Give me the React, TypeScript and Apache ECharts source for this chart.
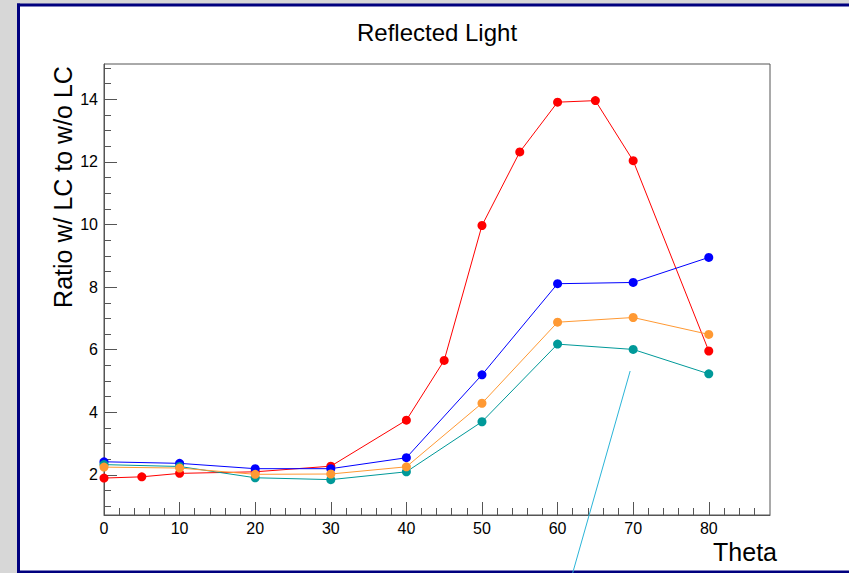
import React, { useEffect, useRef } from "react";
import * as echarts from "echarts";

const titleText = "Reflected Light";
const xTitle = "Theta";
const yTitle = "Ratio w/ LC to w/o LC";

const xMajorTicks = [0, 10, 20, 30, 40, 50, 60, 70, 80];
const xMinorTicks = [2, 4, 6, 8, 12, 14, 16, 18, 22, 24, 26, 28, 32, 34, 36, 38, 42, 44, 46, 48, 52, 54, 56, 58, 62, 64, 66, 68, 72, 74, 76, 78, 82, 84, 86];
const yMajorTicks = [2, 4, 6, 8, 10, 12, 14];
const yMinorTicks = [1, 1.5, 2.5, 3, 3.5, 4.5, 5, 5.5, 6.5, 7, 7.5, 8.5, 9, 9.5, 10.5, 11, 11.5, 12.5, 13, 13.5, 14.5, 15];

const xMin = 0;
const xMax = 88.1;
const yMin = 0.72;
const yMax = 15.13;

const redTheta = [0, 5, 10, 20, 30, 40, 45, 50, 55, 60, 65, 70, 80];
const redRatio = [1.9, 1.94, 2.05, 2.1, 2.28, 3.75, 5.66, 9.97, 12.32, 13.91, 13.96, 12.04, 5.96];

const theta = [0, 10, 20, 30, 40, 50, 60, 70, 80];
const blueRatio = [2.42, 2.37, 2.2, 2.2, 2.55, 5.2, 8.11, 8.15, 8.95];
const tealRatio = [2.33, 2.27, 1.91, 1.85, 2.1, 3.7, 6.18, 6.01, 5.23];
const orangeRatio = [2.25, 2.22, 2.02, 2.03, 2.26, 4.29, 6.88, 7.03, 6.49];

const strayLineTheta = [69.6, 62.0];
const strayLineRatio = [5.32, -1.13];

const zip = (xs: number[], ys: number[]) => xs.map((x, i) => [x, ys[i]]);

const FONT = "Liberation Sans, Arial, Helvetica, sans-serif";
const AXIS_COLOR = "#555555";
const FRAME_COLOR = "#00007f";

export default function App() {
  const ref = useRef<HTMLDivElement>(null);

  useEffect(() => {
    if (!ref.current) return;
    const prevHtmlOverflow = document.documentElement.style.overflow;
    const prevBodyOverflow = document.body.style.overflow;
    document.documentElement.style.overflow = "hidden";
    document.body.style.overflow = "hidden";

    const chart = echarts.init(ref.current, undefined, { renderer: "svg" });

    const mkSeries = (name: string, color: string, xs: number[], ys: number[]) => ({
      name,
      type: "line",
      data: zip(xs, ys),
      symbol: "circle",
      symbolSize: 9,
      showSymbol: true,
      lineStyle: { color, width: 1 },
      itemStyle: { color },
      xAxisIndex: 0,
      yAxisIndex: 0,
    });

    const option: any = {
      animation: false,
      backgroundColor: "#d7d7d7",
      graphic: [
        {
          type: "rect",
          z: -10,
          shape: { x: 18, y: 5, width: 840, height: 567 },
          style: { fill: "#ffffff" },
        },
        {
          type: "line",
          z: -9,
          shape: { x1: 18.5, y1: 3.5, x2: 18.5, y2: 574 },
          style: { stroke: FRAME_COLOR, lineWidth: 3 },
        },
        {
          type: "line",
          z: -9,
          shape: { x1: 17, y1: 5, x2: 860, y2: 5 },
          style: { stroke: FRAME_COLOR, lineWidth: 3 },
        },
        {
          type: "line",
          z: -9,
          shape: { x1: 17, y1: 572, x2: 860, y2: 572 },
          style: { stroke: FRAME_COLOR, lineWidth: 3 },
        },
        {
          type: "text",
          x: 437,
          y: 32,
          style: {
            text: titleText,
            font: `24px ${FONT}`,
            fill: "#000000",
            align: "center",
            verticalAlign: "middle",
          },
        },
        {
          type: "text",
          x: 63,
          y: 187,
          rotation: Math.PI / 2,
          style: {
            text: yTitle,
            font: `25px ${FONT}`,
            fill: "#000000",
            align: "center",
            verticalAlign: "middle",
          },
        },
        {
          type: "text",
          x: 777,
          y: 552,
          style: {
            text: xTitle,
            font: `25px ${FONT}`,
            fill: "#000000",
            align: "right",
            verticalAlign: "middle",
          },
        },
      ],
      grid: {
        left: 104,
        top: 64,
        right: 79,
        bottom: 58,
        show: true,
        borderColor: AXIS_COLOR,
        borderWidth: 1,
        backgroundColor: "transparent",
      },
      xAxis: [
        {
          type: "value",
          min: xMin,
          max: xMax,
          position: "bottom",
          axisLine: { show: true, lineStyle: { color: AXIS_COLOR, width: 1 } },
          axisTick: { show: true, inside: true, length: 13, customValues: xMajorTicks, lineStyle: { color: AXIS_COLOR } },
          axisLabel: { show: true, customValues: xMajorTicks, margin: 5, color: "#000", fontSize: 16, fontFamily: FONT },
          splitLine: { show: false },
        },
        {
          type: "value",
          min: xMin,
          max: xMax,
          position: "bottom",
          axisLine: { show: false },
          axisTick: { show: true, inside: true, length: 7, customValues: xMinorTicks, lineStyle: { color: AXIS_COLOR } },
          axisLabel: { show: false },
          splitLine: { show: false },
        },
      ],
      yAxis: [
        {
          type: "value",
          min: yMin,
          max: yMax,
          position: "left",
          axisLine: { show: true, lineStyle: { color: AXIS_COLOR, width: 1 } },
          axisTick: { show: true, inside: true, length: 13, customValues: yMajorTicks, lineStyle: { color: AXIS_COLOR } },
          axisLabel: { show: true, customValues: yMajorTicks, margin: 6, color: "#000", fontSize: 16, fontFamily: FONT },
          splitLine: { show: false },
        },
        {
          type: "value",
          min: yMin,
          max: yMax,
          position: "left",
          axisLine: { show: false },
          axisTick: { show: true, inside: true, length: 7, customValues: yMinorTicks, lineStyle: { color: AXIS_COLOR } },
          axisLabel: { show: false },
          splitLine: { show: false },
        },
      ],
      series: [
        mkSeries("red", "#ff0000", redTheta, redRatio),
        mkSeries("blue", "#0000ff", theta, blueRatio),
        mkSeries("teal", "#009999", theta, tealRatio),
        mkSeries("orange", "#ff9933", theta, orangeRatio),
        {
          name: "line",
          type: "line",
          data: zip(strayLineTheta, strayLineRatio),
          symbol: "none",
          clip: false,
          lineStyle: { color: "#2bb5d8", width: 1 },
          xAxisIndex: 0,
          yAxisIndex: 0,
        },
      ],
    };

    chart.setOption(option);
    return () => {
      chart.dispose();
      document.documentElement.style.overflow = prevHtmlOverflow;
      document.body.style.overflow = prevBodyOverflow;
    };
  }, []);

  return (
    <div
      ref={ref}
      style={{ position: "fixed", left: 0, top: 0, width: 849, height: 573, overflow: "hidden" }}
    />
  );
}
